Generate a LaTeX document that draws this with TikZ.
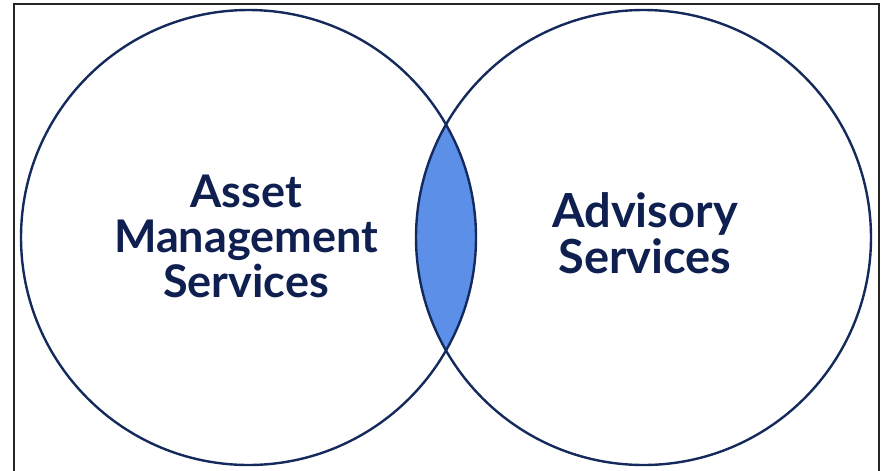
\documentclass[tikz,border=0pt]{standalone}
\usepackage{fontspec}
\setmainfont{Lato}
\definecolor{navyline}{HTML}{142A5C}
\definecolor{navytext}{HTML}{0F1F4F}
\definecolor{lensfill}{HTML}{5B8FE8}
\begin{document}
\begin{tikzpicture}[x=1pt,y=-1pt,
  ring/.style={draw=navyline,line width=2.4pt},
  label/.style={text=navytext,align=center,inner sep=0pt,anchor=base}]
\useasboundingbox (0,0) rectangle (881,471);
\coordinate (cl) at (248.5,237.5);
\coordinate (cr) at (643.5,237.5);
\begin{scope}
  \clip (cl) circle[radius=227.5pt];
  \fill[lensfill] (cr) circle[radius=227.5pt];
\end{scope}
\draw[ring] (cl) circle[radius=227.5pt];
\draw[ring] (cr) circle[radius=227.5pt];
\draw[black!85,line width=2pt] (13.5,480) -- (13.5,4) -- (878.5,4) -- (878.5,480);
\node[label,font=\fontsize{45}{45}\selectfont\bfseries] (am) at (246,297.5) {Asset\\Management\\Services};
\node[label,font=\fontsize{47}{45.5}\selectfont\bfseries] (adv) at (645,273) {Advisory\\Services};
\end{tikzpicture}
\end{document}
